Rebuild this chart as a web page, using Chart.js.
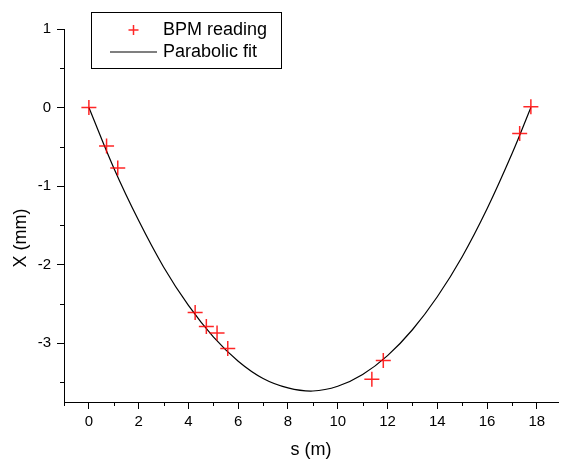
<!DOCTYPE html>
<html>
<head>
<meta charset="utf-8">
<script src="https://cdn.jsdelivr.net/npm/chart.js@4.4.1/dist/chart.umd.min.js"></script>
<style>
    body { margin: 0; background: #fff; }
    canvas { display: block; }
</style>
</head>
<body>
<canvas id="myChart" width="567" height="459"></canvas>
<script>
// BPM readings (s in m, X in mm)
const sBpm = [0, 0.71, 1.16, 4.27, 4.72, 5.15, 5.58, 11.37, 11.83, 17.31, 17.76];
const xBpm = [0.00, -0.49, -0.77, -2.61, -2.79, -2.87, -3.07, -3.46, -3.22, -0.33, 0.01];

// Parabolic fit
const sFit = [0, 1, 2, 3, 4, 5, 6, 7, 8, 9, 10, 11, 12, 13, 14, 15, 16, 17, 17.76];
const xFit = [0.00, -0.77, -1.44, -2.03, -2.52, -2.92, -3.23, -3.45, -3.57, -3.61, -3.55, -3.40, -3.16, -2.83, -2.41, -1.90, -1.29, -0.59, 0.00];

const seriesNames = ["BPM reading", "Parabolic fit"];
const xTitle = "s (m)";
const yTitle = "X (mm)";

const FONT = "Arial, 'Liberation Sans', sans-serif";

// Minor ticks, y title and legend box drawn on top of the chart
const extras = {
    id: "extras",
    afterDraw(chart) {
        const c = chart.ctx;
        const xs = chart.scales.x, ys = chart.scales.y;
        c.save();
        c.strokeStyle = "#000";
        c.lineWidth = 1;
        c.beginPath();
        for (let v = Math.ceil(xs.min); v <= xs.max; v++) {
            if (v % 2 === 0) continue;
            const px = Math.round(xs.getPixelForValue(v)) + 0.5;
            c.moveTo(px, xs.top);
            c.lineTo(px, xs.top + 4);
        }
        for (let v = Math.ceil(ys.min * 2) / 2; v <= ys.max; v += 0.5) {
            if (Number.isInteger(v)) continue;
            const py = Math.round(ys.getPixelForValue(v)) + 0.5;
            c.moveTo(ys.right, py);
            c.lineTo(ys.right - 4, py);
        }
        c.stroke();

        // y axis title (sits a bit below the middle in the original)
        c.fillStyle = "#000";
        c.font = "18px " + FONT;
        c.translate(21, 238);
        c.rotate(-Math.PI / 2);
        c.textAlign = "center";
        c.textBaseline = "middle";
        c.fillText(yTitle, 0, 0);
        c.setTransform(1, 0, 0, 1, 0, 0);

        // legend
        c.fillStyle = "#fff";
        c.fillRect(91, 12, 190, 56);
        c.strokeRect(91.5, 12.5, 190, 56);
        const pt = chart.data.datasets[0];
        c.strokeStyle = pt.borderColor;
        c.lineWidth = pt.borderWidth;
        c.beginPath();
        c.moveTo(133.5 - 5, 30); c.lineTo(133.5 + 5, 30);
        c.moveTo(133.5, 25); c.lineTo(133.5, 35);
        c.stroke();
        c.strokeStyle = "#555";
        c.lineWidth = 1.5;
        c.beginPath();
        c.moveTo(110, 52); c.lineTo(157, 52);
        c.stroke();
        c.fillStyle = "#000";
        c.textAlign = "left";
        c.textBaseline = "alphabetic";
        c.fillText(seriesNames[0], 163, 35);
        c.fillText(seriesNames[1], 163, 57);
        c.restore();
    }
};

const ctx = document.getElementById("myChart");
const chart = new Chart(ctx, {
    type: "scatter",
    data: {
        datasets: [{
            label: seriesNames[0],
            data: sBpm.map((s, i) => ({ x: s, y: xBpm[i] })),
            pointStyle: "cross",
            pointRadius: 7.5,
            pointHoverRadius: 7.5,
            borderColor: "rgba(255,0,0,0.85)",
            borderWidth: 1.5,
            order: 0
        }, {
            label: seriesNames[1],
            data: sFit.map((s, i) => ({ x: s, y: xFit[i] })),
            showLine: true,
            tension: 0.4,
            pointRadius: 0,
            borderColor: "#000",
            borderWidth: 1.2,
            order: 1
        }]
    },
    options: {
        responsive: false,
        animation: false,
        layout: { padding: { top: 29, right: 1, left: 0, bottom: 0 } },
        plugins: {
            legend: { display: false },
            tooltip: { enabled: false }
        },
        scales: {
            x: {
                type: "linear",
                min: -1,
                max: 18.85,
                border: { display: true, color: "#000", width: 1 },
                grid: { drawOnChartArea: false, drawTicks: true, tickLength: 7, color: "#000" },
                ticks: {
                    stepSize: 2,
                    includeBounds: false,
                    color: "#000",
                    padding: 4,
                    maxRotation: 0,
                    font: { family: FONT, size: 15 }
                },
                title: {
                    display: true,
                    text: xTitle,
                    color: "#000",
                    padding: { top: 0, bottom: 0 },
                    font: { family: FONT, size: 18, lineHeight: 1 }
                },
                afterFit: (scale) => { scale.height = 57; }
            },
            y: {
                type: "linear",
                min: -3.75,
                max: 1,
                border: { display: true, color: "#000", width: 1 },
                grid: { drawOnChartArea: false, drawTicks: true, tickLength: 7, color: "#000" },
                ticks: {
                    stepSize: 1,
                    includeBounds: false,
                    color: "#000",
                    padding: 6,
                    font: { family: FONT, size: 15 }
                },
                afterFit: (scale) => { scale.width = 64; }
            }
        }
    },
    plugins: [extras]
});
</script>
</body>
</html>
